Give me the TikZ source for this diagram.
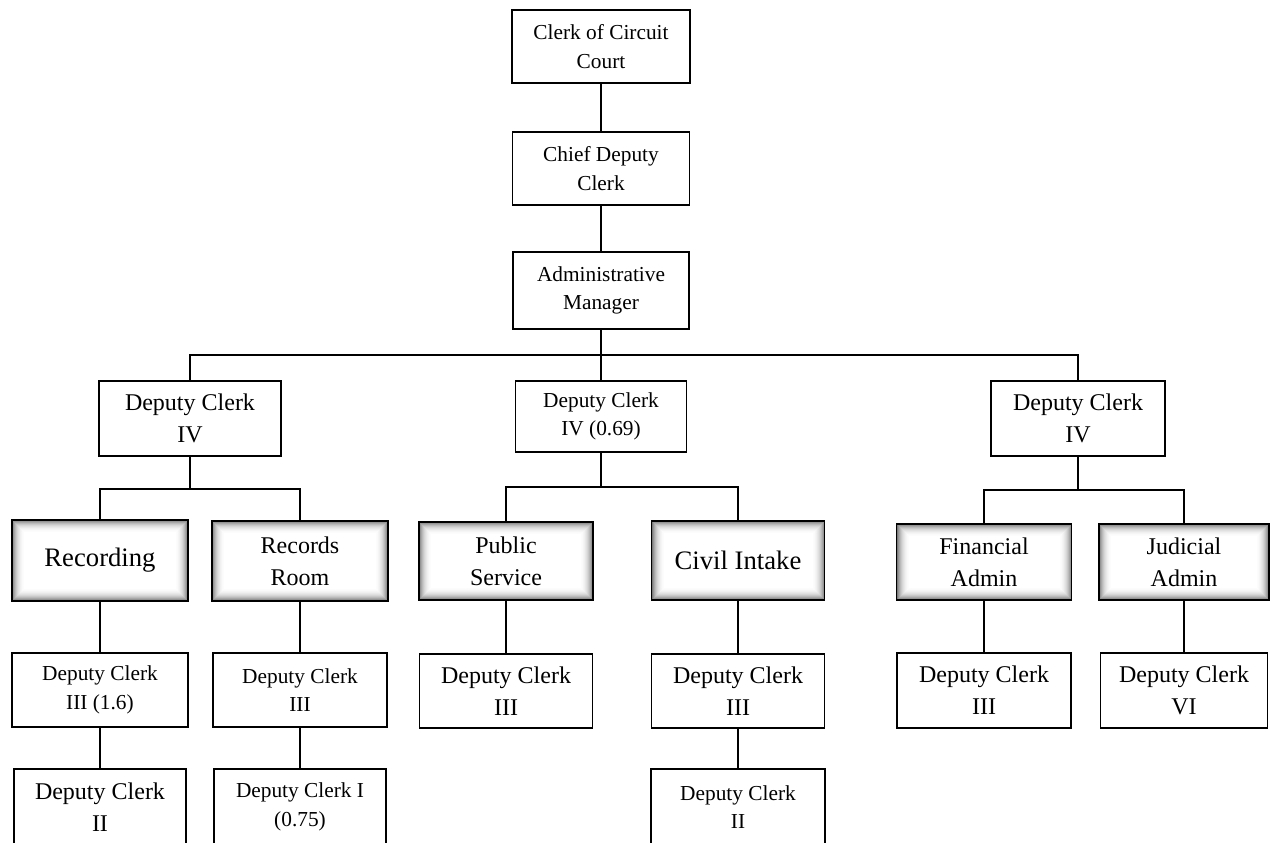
\documentclass[tikz,border=0pt]{standalone}
\usepackage{fontspec}
\setmainfont{Liberation Serif}
\newcommand\fsA{\fontsize{16}{21.5}\selectfont}
\newcommand\fsB{\fontsize{18}{24}\selectfont}
\newcommand\fsC{\fontsize{20}{26}\selectfont}
\tikzset{
  box/.style={draw, line width=1.3pt, inner sep=0pt, align=center, fill=white},
  glow/.style={box, path picture={
    \foreach \i/\c in {0/52,1/42,2/34,3/27,4/21,5/16,6/12,7/9,8/6,9/4,10/2,11/1,12/0} {
      \fill[black!\c] ([shift={(\i*0.75pt,-\i*0.75pt)}]path picture bounding box.north west) rectangle ([shift={(-\i*0.75pt,\i*0.75pt)}]path picture bounding box.south east);
    }}},
  link/.style={draw, line width=1.3pt}
}
\begin{document}
\begin{tikzpicture}[x=0.75pt, y=-0.75pt]
\useasboundingbox (0,0) rectangle (1270,842);
\clip (0,0) rectangle (1270,842);
% top chain
\node[box, font=\fsA, minimum width=133.5pt, minimum height=54.75pt] (A) at (601,46.5) {Clerk of Circuit\\Court};
\node[box, font=\fsA, minimum width=132.75pt, minimum height=54.75pt] (B) at (601,168.5) {Chief Deputy\\Clerk};
\node[box, font=\fsA, minimum width=132pt, minimum height=57.75pt] (C) at (601,290.5) {Administrative\\Manager};
% second row
\node[box, font=\fsB, minimum width=137pt, minimum height=56.25pt] (D1) at (190,418.5) {Deputy Clerk\\IV};
\node[box, font=\fsA, minimum width=128.25pt, minimum height=53.25pt] (D2) at (601,416.5) {Deputy Clerk\\IV (0.69)};
\node[box, font=\fsB, minimum width=130.5pt, minimum height=56.25pt] (D3) at (1078,418.5) {Deputy Clerk\\IV};
% third row (shaded)
\node[glow, font=\fsC, minimum width=132pt, minimum height=60.75pt] (R1) at (100,560.5) {Recording};
\node[glow, font=\fsB, minimum width=132pt, minimum height=60pt] (R2) at (300,561) {Records\\Room};
\node[glow, font=\fsB, minimum width=130.5pt, minimum height=58.5pt] (R3) at (506,561) {Public\\Service};
\node[glow, font=\fsC, minimum width=129.75pt, minimum height=59.25pt] (R4) at (738,560.5) {Civil Intake};
\node[glow, font=\fsB, minimum width=131.25pt, minimum height=57pt] (R5) at (984,562) {Financial\\Admin};
\node[glow, font=\fsB, minimum width=127.5pt, minimum height=57pt] (R6) at (1184,562) {Judicial\\Admin};
% fourth row
\node[box, font=\fsA, minimum width=132pt, minimum height=55.5pt] (S1) at (100,690) {Deputy Clerk\\III (1.6)};
\node[box, font=\fsA, minimum width=130.5pt, minimum height=55.5pt] (S2) at (300,690) {Deputy Clerk\\III};
\node[box, font=\fsB, minimum width=129.75pt, minimum height=55.5pt] (S3) at (506,691) {Deputy Clerk\\III};
\node[box, font=\fsB, minimum width=129.75pt, minimum height=55.5pt] (S4) at (738,691) {Deputy Clerk\\III};
\node[box, font=\fsB, minimum width=130.5pt, minimum height=56.25pt] (S5) at (984,690.5) {Deputy Clerk\\III};
\node[box, font=\fsB, minimum width=125.25pt, minimum height=56.25pt] (S6) at (1184,690.5) {Deputy Clerk\\VI};
% fifth row (cut off at the bottom)
\node[box, font=\fsB, minimum width=129pt, minimum height=57pt] (T1) at (100,807) {Deputy Clerk\\II};
\node[box, font=\fsA, minimum width=129pt, minimum height=57pt] (T2) at (300,807) {Deputy Clerk I\\(0.75)};
\node[box, font=\fsA, minimum width=130.5pt, minimum height=57pt] (T4) at (738,807) {Deputy Clerk\\II};
% junctions
\coordinate (j0) at (601,355);
\coordinate (j1) at (190,489);
\coordinate (j2) at (601,487);
\coordinate (j3) at (1078,490);
% connectors
\draw[link] (A.south) -- (B.north);
\draw[link] (B.south) -- (C.north);
\draw[link] (C.south) -- (D2.north);
\draw[link] (D1.north) |- (j0) -| (D3.north);
\draw[link] (D1.south) -- (j1);
\draw[link] (R1.north) |- (j1) -| (R2.north);
\draw[link] (D2.south) -- (j2);
\draw[link] (R3.north) |- (j2) -| (R4.north);
\draw[link] (D3.south) -- (j3);
\draw[link] (R5.north) |- (j3) -| (R6.north);
\draw[link] (R1.south) -- (S1.north);
\draw[link] (R2.south) -- (S2.north);
\draw[link] (R3.south) -- (S3.north);
\draw[link] (R4.south) -- (S4.north);
\draw[link] (R5.south) -- (S5.north);
\draw[link] (R6.south) -- (S6.north);
\draw[link] (S1.south) -- (T1.north);
\draw[link] (S2.south) -- (T2.north);
\draw[link] (S4.south) -- (T4.north);
\end{tikzpicture}
\end{document}
